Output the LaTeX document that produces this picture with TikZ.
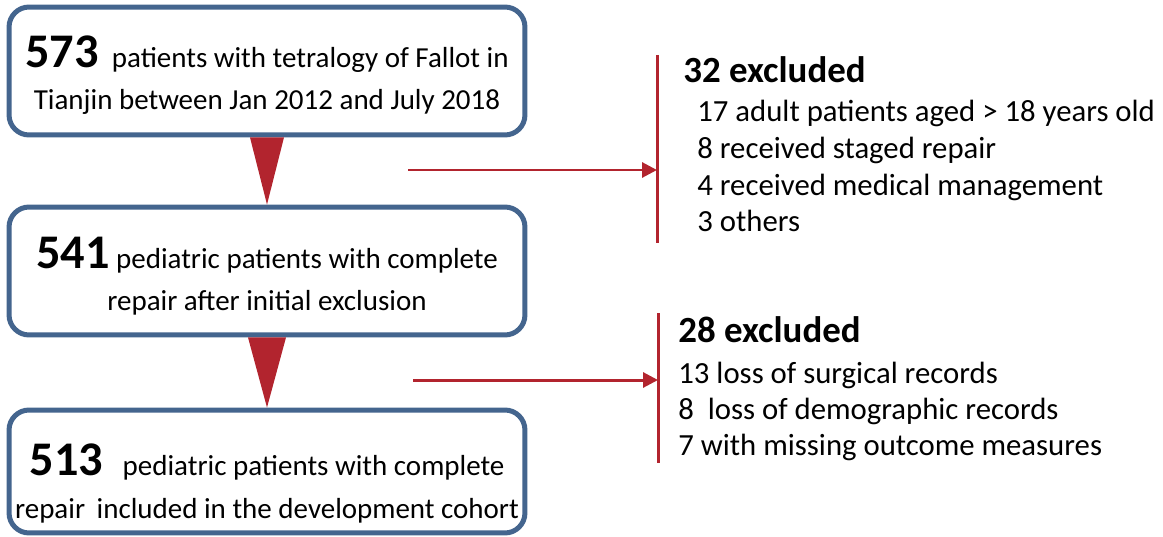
\documentclass[tikz,border=0pt]{standalone}
\usepackage{fontspec}
\setmainfont{Carlito}
\usetikzlibrary{arrows.meta,positioning}
\definecolor{boxblue}{HTML}{44658E}
\definecolor{exred}{HTML}{B2242E}
\tikzset{>={Triangle[length=0.3cm,width=0.3cm]}}
\newcommand{\bignum}[1]{{\fontsize{27.5}{28}\selectfont\bfseries #1}}

\begin{document}
\begin{tikzpicture}[x=0.02cm, y=-0.02cm,
    patbox/.style={draw=boxblue, line width=0.1cm, rounded corners=0.4cm, fill=white,
      minimum width=10.32cm, inner sep=0pt},
    boxtext/.style={align=center, inner sep=0pt, font=\fontsize{16.5}{24}\selectfont},
    exline/.style={draw=exred, line width=0.06cm},
    exhead/.style={anchor=base west, inner sep=0pt, font=\fontsize{21}{24}\selectfont\bfseries},
    exitem/.style={anchor=base west, inner sep=0pt, font=\fontsize{17.5}{20}\selectfont}]
  \useasboundingbox (0,0) rectangle (1163,537);

  % boxes on the left
  \node[patbox, minimum height=2.56cm] (n1) at (267,71) {};
  \node[patbox, minimum height=2.56cm] (n2) at (267,271) {};
  \node[patbox, minimum height=2.46cm] (n3) at (267,471.5) {};

  \node[boxtext] (t1) at ([yshift=-0.08cm]n1.center)
    {\bignum{573}\ \ patients with tetralogy of Fallot in\\Tianjin between Jan 2012 and July 2018};
  \node[boxtext] (t2) at ([yshift=-0.1cm]n2.center)
    {\bignum{541}\ pediatric patients with complete\\repair after initial exclusion};
  \node[boxtext] (t3) at ([yshift=-0.24cm]n3.center)
    {\bignum{513}\ \ \ pediatric patients with complete\\repair\hspace{0.4em}included in the development cohort};

  % red triangles between boxes
  \fill[exred] ([xshift=-0.34cm]n1.south) -- ([xshift=0.34cm]n1.south) -- (n2.north) -- cycle;
  \fill[exred] ([xshift=-0.38cm]n2.south) -- ([xshift=0.38cm]n2.south) -- (n3.north) -- cycle;

  % exclusion arrows
  \coordinate (a1) at (408,170);
  \coordinate (bar1t) at (657,55);
  \coordinate (bar1b) at (657,243);
  \draw[exline] (bar1t) -- (bar1b);
  \draw[exline,->] (a1) -- (a1 -| bar1t);

  \coordinate (a2) at (413,380);
  \coordinate (bar2t) at (658,313);
  \coordinate (bar2b) at (658,463);
  \draw[exline] (bar2t) -- (bar2b);
  \draw[exline,->] (a2) -- (a2 -| bar2t);

  % exclusion lists
  \node[exhead] (h1) at (683,83) {32 excluded};
  \foreach \t [count=\i] in {17 adult patients aged > 18 years old, 8 received staged repair,
      4 received medical management, 3 others}
    \node[exitem] (e1-\i) at (697,{122+36.5*(\i-1)}) {\t};

  \node[exhead] (h2) at (678,342) {28 excluded};
  \foreach \t [count=\i] in {13 loss of surgical records, 8\ \ loss of demographic records,
      7 with missing outcome measures}
    \node[exitem] (e2-\i) at (678,{383+36*(\i-1)}) {\t};
\end{tikzpicture}
\end{document}
